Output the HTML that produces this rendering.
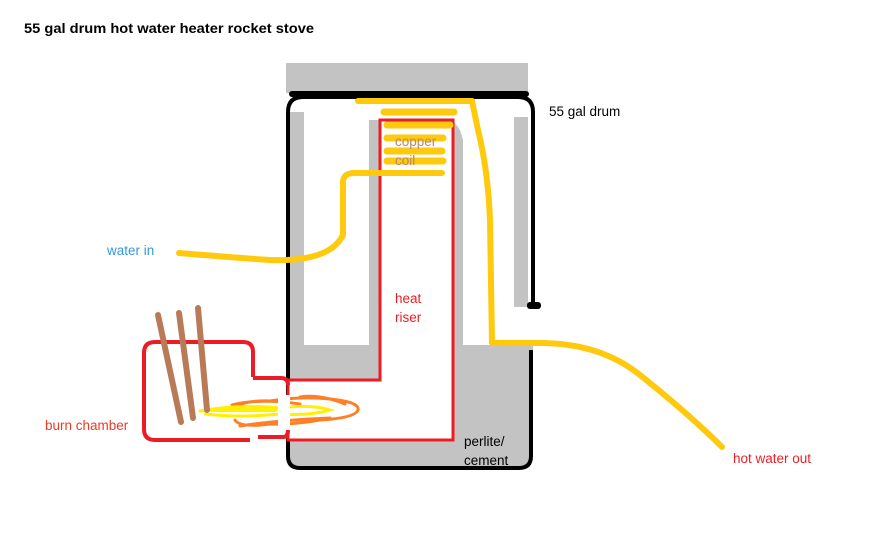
<!DOCTYPE html>
<html><head><meta charset="utf-8"><style>
html,body{margin:0;padding:0;background:#fff;}
svg{display:block}
text{font-family:"Liberation Sans",sans-serif;font-size:13.5px}
</style></head><body>
<svg width="880" height="533" viewBox="0 0 880 533" xmlns="http://www.w3.org/2000/svg">
<rect width="880" height="533" fill="#fff"/>
<text x="24" y="33" font-weight="bold" font-size="14.5" fill="#000" textLength="290" lengthAdjust="spacingAndGlyphs">55 gal drum hot water heater rocket stove</text>
<!-- lid -->
<rect x="286" y="63" width="242" height="30" fill="#c3c3c3"/>
<!-- gray interior -->
<rect x="289" y="112" width="15" height="235" fill="#c3c3c3"/>
<rect x="369" y="120" width="10" height="227" fill="#c3c3c3"/>
<polygon points="453,120 460,130 463,140 463,347 453,347" fill="#c3c3c3"/>
<rect x="514" y="117" width="14" height="190" fill="#c3c3c3"/>
<path d="M289,345 H533 V456 Q533,467 521,467 H300 Q289,467 289,456 Z" fill="#c3c3c3"/>
<!-- drum outline -->
<path d="M533,305 V112 Q533,97 518,97 H303 Q288,97 288,112 V456 Q288,468 300,468 H519 Q531,468 531,456 V350" fill="none" stroke="#000" stroke-width="4"/>
<rect x="289" y="91" width="240" height="6" rx="3" fill="#000"/>
<rect x="527" y="302" width="14" height="7" rx="3" fill="#000"/>
<!-- riser -->
<path d="M380,380 V120 H453 V440 H288 V380 Z" fill="#fff" stroke="#ed1c24" stroke-width="3"/>
<!-- burn chamber -->
<path d="M253,377 V352 Q253,342 243,342 H155 Q144,342 144,353 V429 Q144,440 155,440 H250 M258,437 H283 Q288,437 288,430 M288,385 Q288,378 281,378 H253" fill="none" stroke="#ed1c24" stroke-width="4"/>
<!-- flame -->
<g fill="none" stroke-width="3" stroke-linecap="round">
<path d="M235,410 Q240,400 270,401 Q300,396 330,399 Q360,402 358,410 Q355,418 320,420 Q290,425 270,424 Q240,428 235,420" stroke="#ff7f27"/>
<path d="M232,405 Q260,398 300,404 M240,426 Q280,420 330,418 M300,397 Q320,394 345,404" stroke="#ff7f27"/>
<path d="M200,411 Q240,404 280,408 Q310,404 330,410 Q310,416 280,414 Q240,418 205,414" stroke="#ffef00"/>
<path d="M212,410 H275" stroke="#ffef00" stroke-width="4"/>
</g>
<rect x="278" y="395" width="12" height="35" fill="#fff"/>
<!-- firewood -->
<g stroke="#b97a57" stroke-width="6" stroke-linecap="round">
<line x1="158" y1="315" x2="181" y2="422"/>
<line x1="179" y1="313" x2="193" y2="418"/>
<line x1="198" y1="308" x2="207" y2="410"/>
</g>
<!-- pipes -->
<g fill="none" stroke="#ffc90e" stroke-width="6" stroke-linecap="round" stroke-linejoin="round">
<path d="M179,253 Q240,258 270,260 Q330,262 343,235 V182 Q343,173 355,173 H442"/>
<g stroke-width="7">
<line x1="384" y1="112" x2="454" y2="112"/>
<line x1="387" y1="125" x2="450" y2="125"/>
<line x1="387" y1="138" x2="443" y2="138"/>
<line x1="387" y1="151" x2="442" y2="151"/>
<line x1="387" y1="161" x2="443" y2="161"/>
</g>
<path d="M358,101 H472 L478,130 Q488,170 490,220 L492,343 H540 Q600,343 640,375 Q690,415 722,447"/>
</g>
<!-- labels -->
<text x="549" y="116" fill="#000">55 gal drum</text>
<text x="107" y="255" fill="#3399dd">water in</text>
<text x="45" y="430" fill="#ed3a24">burn chamber</text>
<text x="733" y="463" fill="#ed1c24">hot water out</text>
<text x="395" y="303" fill="#ed1c24">heat</text>
<text x="395" y="322" fill="#ed1c24">riser</text>
<text x="395" y="146" fill="#b9876a">copper</text>
<text x="395" y="165" fill="#b9876a">coil</text>
<text x="464" y="446" fill="#000">perlite/</text>
<text x="464" y="465" fill="#000">cement</text>
</svg>
</body></html>
